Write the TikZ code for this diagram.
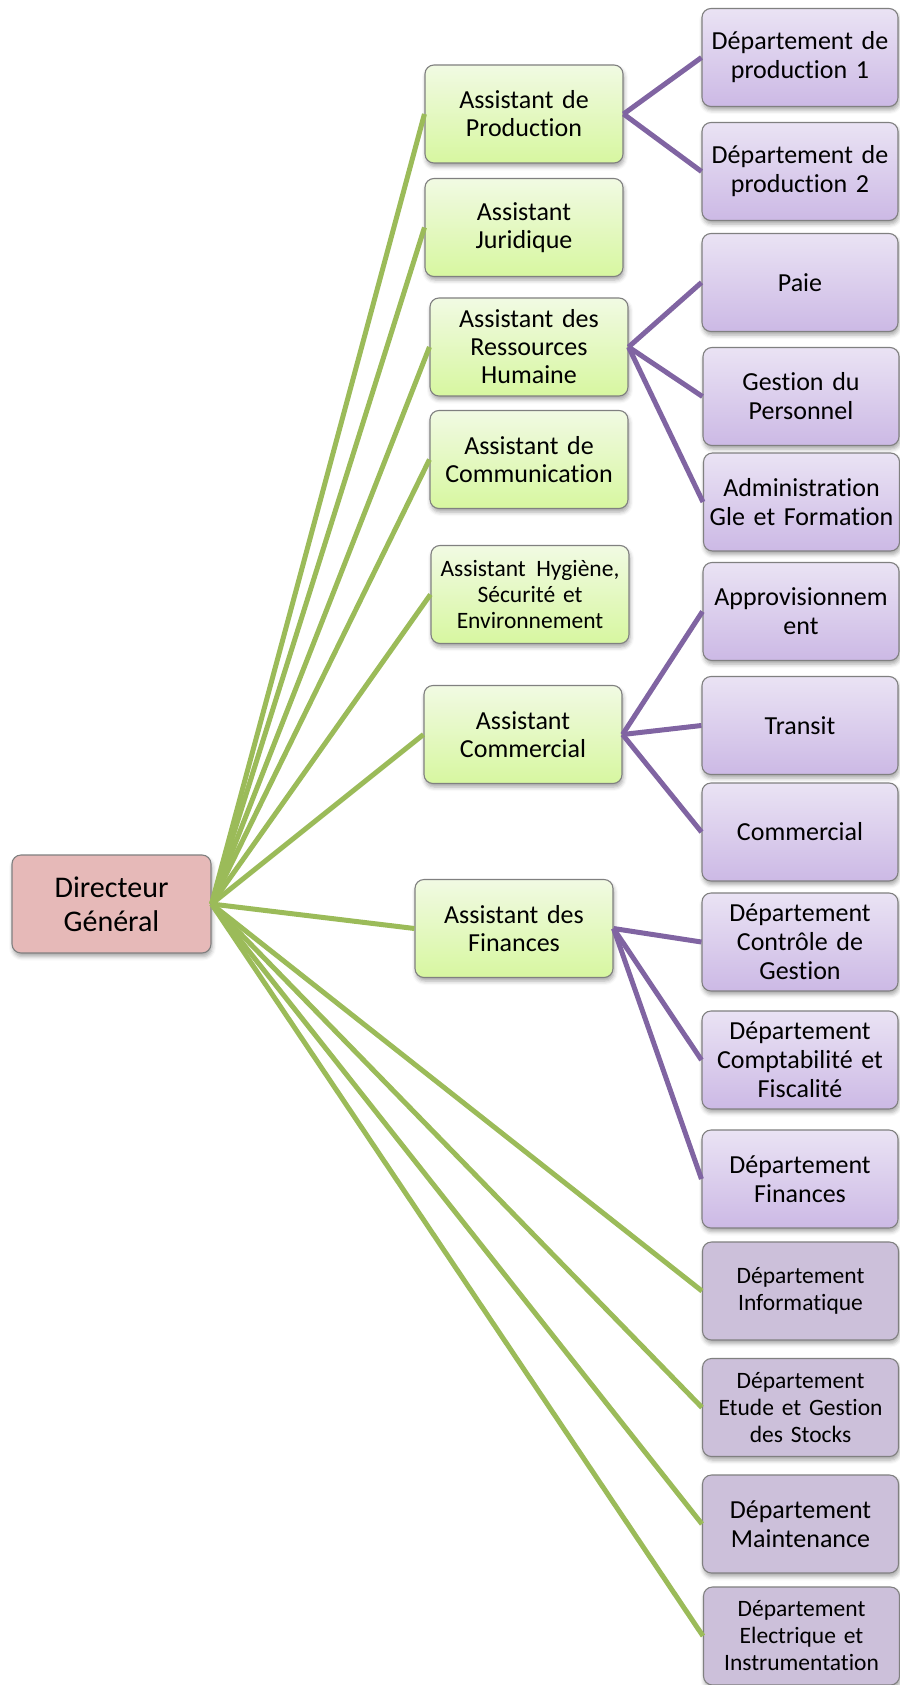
\documentclass[tikz,border=0pt]{standalone}
\usepackage{fontspec}
\setmainfont{Carlito}[Ligatures={NoCommon}]
\usetikzlibrary{shadows.blur}
\definecolor{lgreen}{HTML}{9BBB59}
\definecolor{lpurple}{HTML}{8064A2}
\definecolor{gtop}{HTML}{F1FAE3}
\definecolor{gbot}{HTML}{D7F7A0}
\definecolor{ptop}{HTML}{EAE3F4}
\definecolor{pbot}{HTML}{CCB9E5}
\definecolor{grayfill}{HTML}{CCC0DA}
\definecolor{dgfill}{HTML}{E6B9B8}
\definecolor{bord}{HTML}{808080}
\tikzset{
  box/.style={draw=bord, line width=1.1pt, rounded corners=9pt, inner xsep=4pt, inner ysep=0pt,
    text width=188pt, align=center, minimum height=98pt,
    blur shadow={shadow xshift=1pt, shadow yshift=-3.5pt, shadow blur radius=4pt, shadow opacity=35}},
  dgbox/.style={box, fill=dgfill, font=\fontsize{30}{34}\selectfont},
  gbox/.style={box, top color=gtop, bottom color=gbot, font=\fontsize{26}{28}\selectfont},
  gsmall/.style={gbox, font=\fontsize{23.5}{26}\selectfont},
  pbox/.style={box, top color=ptop, bottom color=pbot, font=\fontsize{26}{29}\selectfont},
  dbox/.style={box, fill=grayfill, font=\fontsize{23.5}{27}\selectfont},
  dboxl/.style={dbox, font=\fontsize{26}{29}\selectfont},
  gline/.style={draw=lgreen, line width=5pt},
  pline/.style={draw=lpurple, line width=5pt},
}
\begin{document}
\begin{tikzpicture}[x=1pt,y=-1pt]
\useasboundingbox (0,0) rectangle (899,1685);
% nodes
\node[dgbox, text width=191pt] (dg) at (111.5,904) {Directeur\\Général};
\node[gbox, text width=190pt] (a1) at (524,114) {Assistant de\\Production};
\node[gbox, text width=190pt] (a2) at (524,227.5) {Assistant\\Juridique};
\node[gbox, text width=190pt] (a3) at (529,347) {Assistant des\\Ressources\\Humaine};
\node[gbox, text width=190pt] (a4) at (529,459.5) {Assistant de\\Communication};
\node[gsmall, text width=190pt] (a5) at (530,594.5) {Assistant\hspace{0.45em}Hygiène,\\Sécurité et\\Environnement};
\node[gbox, text width=190pt] (a6) at (523,734.5) {Assistant\\Commercial};
\node[gbox, text width=190pt] (a7) at (514,928.5) {Assistant des\\Finances};

\node[pbox] (p1) at (800,57.5) {Département de\\production 1};
\node[pbox] (p2) at (800,171.5) {Département de\\production 2};
\node[pbox] (p3) at (800,282.5) {Paie};
\node[pbox] (p4) at (801,396.5) {Gestion du\\Personnel};
\node[pbox] (p5) at (801.5,502) {Administration\\Gle et Formation};
\node[pbox] (p6) at (801,611.5) {Approvisionnem\\ent};
\node[pbox] (p7) at (800,725.5) {Transit};
\node[pbox] (p8) at (800,832) {Commercial};
\node[pbox] (p9) at (800,942) {Département\\Contrôle de\\Gestion};
\node[pbox] (p10) at (800,1060) {Département\\Comptabilité et\\Fiscalité};
\node[pbox] (p11) at (800,1179) {Département\\Finances};

\node[dbox] (d1) at (800.5,1291) {Département\\Informatique};
\node[dbox] (d2) at (800.5,1407.5) {Département\\Etude et Gestion\\des Stocks};
\node[dboxl] (d3) at (800.5,1524) {Département\\Maintenance};
\node[dbox] (d4) at (801.5,1636) {Département\\Electrique et\\Instrumentation};

% connectors
\foreach \t in {a1,a2,a3,a4,a5,a6,a7,d1,d2,d3,d4}
  \draw[gline] (dg.east) -- (\t.west);
\draw[pline] (a1.east) -- (p1.west);
\draw[pline] (a1.east) -- (p2.west);
\draw[pline] (a3.east) -- (p3.west);
\draw[pline] (a3.east) -- (p4.west);
\draw[pline] (a3.east) -- (p5.west);
\draw[pline] (a6.east) -- (p6.west);
\draw[pline] (a6.east) -- (p7.west);
\draw[pline] (a6.east) -- (p8.west);
\draw[pline] (a7.east) -- (p9.west);
\draw[pline] (a7.east) -- (p10.west);
\draw[pline] (a7.east) -- (p11.west);
\end{tikzpicture}
\end{document}
